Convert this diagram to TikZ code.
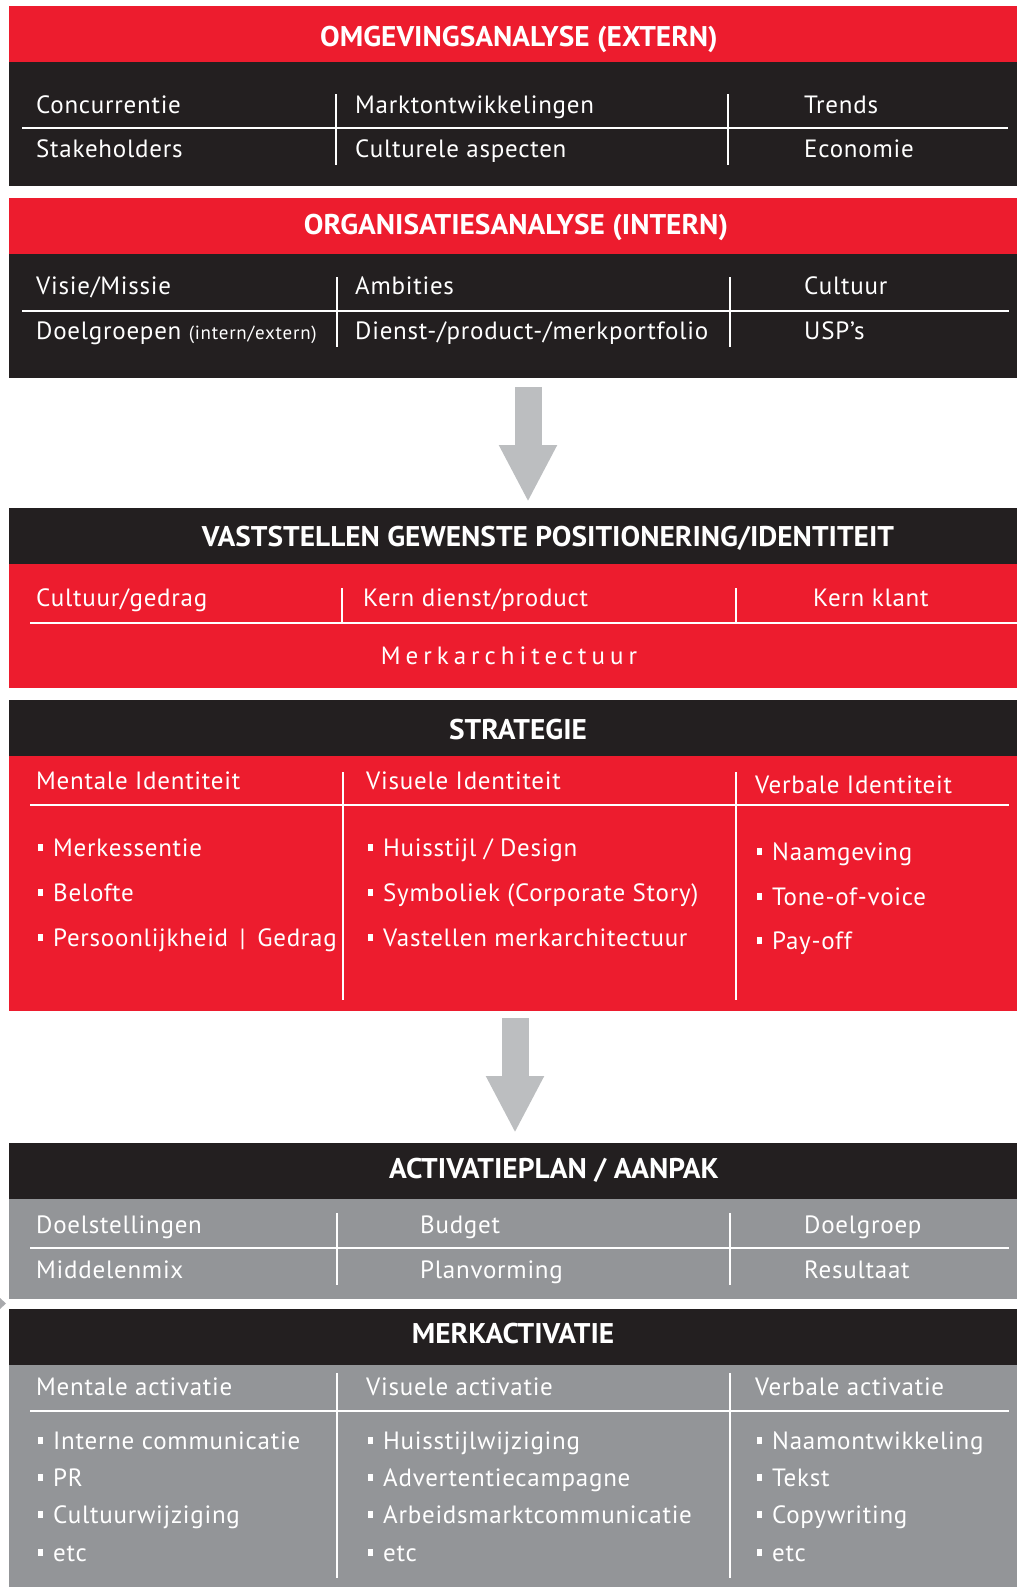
\documentclass[tikz,border=0pt]{standalone}
\usepackage{fontspec}
\setmainfont{PT Sans}
\newfontfamily\hfont[FakeStretch=1.03]{PT Sans}
\newfontfamily\bfont[LetterSpace=3]{PT Sans}
\usetikzlibrary{arrows.meta}
\definecolor{cred}{HTML}{ED1C2E}
\definecolor{cdark}{HTML}{231F20}
\definecolor{cgrey}{HTML}{939598}
\definecolor{carrow}{HTML}{BCBEC0}
\newcommand\bul{\rule[5pt]{5pt}{7pt}\hspace{10pt}}
\tikzset{
  panel/.style={inner sep=0pt, outer sep=0pt, minimum width=1008pt, anchor=north west, draw=none},
  hdr/.style={font=\hfont\bfseries\fontsize{28.5}{30}\selectfont, text=white, inner sep=0pt, anchor=base},
  txt/.style={font=\bfont\fontsize{25}{28}\selectfont, text=white, inner sep=0pt, anchor=base west},
  hsep/.style={draw=white, line width=2.5pt},
  vsep/.style={draw=white, line width=2pt},
  blockarrow/.style={draw=carrow, line width=27pt, -{Triangle[width=54pt,length=57pt,fill=carrow]}}
}
\begin{document}
\begin{tikzpicture}[x=1pt,y=-1pt]
\useasboundingbox (0,0) rectangle (1017,1587);
% ---------- Box 1
\node[panel, fill=cred, minimum height=56pt] (h1) at (9,6) {};
\node[panel, fill=cdark, minimum height=124pt] (b1) at (9,62) {};
\node[hdr] (t1) at (519,47) {OMGEVINGSANALYSE (EXTERN)};
\draw[hsep] (22,128) -- (1008,128);
\draw[vsep] (336,94) -- (336,165);
\draw[vsep] (728,94) -- (728,165);
\node[txt] (c11) at (36,113) {Concurrentie};
\node[txt] (c12) at (355,113) {Marktontwikkelingen};
\node[txt] (c13) at (804,113) {Trends};
\node[txt] (c14) at (36,157) {Stakeholders};
\node[txt] (c15) at (355,157) {Culturele aspecten};
\node[txt] (c16) at (804,157) {Economie};
% ---------- Box 2
\node[panel, fill=cred, minimum height=56pt] (h2) at (9,198) {};
\node[panel, fill=cdark, minimum height=124pt] (b2) at (9,254) {};
\node[hdr] (t2) at (516,234) {ORGANISATIESANALYSE (INTERN)};
\draw[hsep] (22,311) -- (1009,311);
\draw[vsep] (337,277) -- (337,347);
\draw[vsep] (730,277) -- (730,347);
\node[txt] (c21) at (36,294) {Visie/Missie};
\node[txt] (c22) at (355,294) {Ambities};
\node[txt] (c23) at (804,294) {Cultuur};
\node[txt] (c24) at (36,339) {Doelgroepen {\fontsize{19}{22}\selectfont\addfontfeature{LetterSpace=4} (intern/extern)}};
\node[txt] (c25) at (355,339) {Dienst-/product-/merkportfolio};
\node[txt] (c26) at (804,339) {USP’s};
% ---------- Arrow 1
\coordinate (a1s) at (528,387);
\coordinate (a1e) at (528,502);
\draw[blockarrow] (a1s) -- (a1e);
% ---------- Box 3
\node[panel, fill=cdark, minimum height=56pt] (h3) at (9,508) {};
\node[panel, fill=cred, minimum height=124pt] (b3) at (9,564) {};
\node[hdr] (t3) at (548,546) {VASTSTELLEN GEWENSTE POSITIONERING/IDENTITEIT};
\draw[hsep] (30,623) -- (1017,623);
\draw[vsep] (342,588) -- (342,622);
\draw[vsep] (736,588) -- (736,622);
\node[txt] (c31) at (36,606) {Cultuur/gedrag};
\node[txt] (c32) at (363,606) {Kern dienst/product};
\node[txt] (c33) at (813,606) {Kern klant};
\node[txt, anchor=base] (c34) at (509,664) {\addfontfeature{LetterSpace=20}Merkarchitectuur};
% ---------- Box 4
\node[panel, fill=cdark, minimum height=56pt] (h4) at (9,700) {};
\node[panel, fill=cred, minimum height=255pt] (b4) at (9,756) {};
\node[hdr] (t4) at (518,739) {STRATEGIE};
\draw[hsep] (30,805) -- (1009,805);
\draw[vsep] (343,772) -- (343,1000);
\draw[vsep] (736,772) -- (736,1000);
\node[txt] (c41) at (36,789) {Mentale Identiteit};
\node[txt] (c42) at (366,789) {Visuele Identiteit};
\node[txt] (c43) at (755,793) {Verbale Identiteit};
\node[txt] (c44) at (38,856) {\bul Merkessentie};
\node[txt] (c45) at (38,901) {\bul Belofte};
\node[txt] (c46) at (38,946) {\bul Persoonlijkheid \,|\, Gedrag};
\node[txt] (c47) at (368,856) {\bul Huisstijl / Design};
\node[txt] (c48) at (368,901) {\bul Symboliek (Corporate Story)};
\node[txt] (c49) at (368,946) {\bul Vastellen merkarchitectuur};
\node[txt] (c4a) at (757,860) {\bul Naamgeving};
\node[txt] (c4b) at (757,905) {\bul Tone-of-voice};
\node[txt] (c4c) at (757,949) {\bul Pay-off};
% ---------- Arrow 2
\coordinate (a2s) at (515,1018);
\coordinate (a2e) at (515,1133);
\draw[blockarrow] (a2s) -- (a2e);
% ---------- Box 5
\node[panel, fill=cdark, minimum height=56pt] (h5) at (9,1143) {};
\node[panel, fill=cgrey, minimum height=100pt] (b5) at (9,1199) {};
\node[hdr] (t5) at (554,1178) {ACTIVATIEPLAN / AANPAK};
\draw[hsep] (30,1248) -- (1009,1248);
\draw[vsep] (337,1213) -- (337,1285);
\draw[vsep] (730,1213) -- (730,1285);
\node[txt] (c51) at (36,1233) {Doelstellingen};
\node[txt] (c52) at (420,1233) {Budget};
\node[txt] (c53) at (804,1233) {Doelgroep};
\node[txt] (c54) at (36,1278) {Middelenmix};
\node[txt] (c55) at (420,1278) {Planvorming};
\node[txt] (c56) at (804,1278) {Resultaat};
\fill[cgrey!80!white] (0,1298) -- (6,1303.5) -- (0,1309) -- cycle;
% ---------- Box 6
\node[panel, fill=cdark, minimum height=56pt] (h6) at (9,1309) {};
\node[panel, fill=cgrey, minimum height=278pt] (b6) at (9,1365) {};
\node[hdr] (t6) at (513,1343) {MERKACTIVATIE};
\draw[hsep] (30,1411) -- (1009,1411);
\draw[vsep] (337,1373) -- (337,1578);
\draw[vsep] (730,1373) -- (730,1578);
\node[txt] (c61) at (36,1395) {Mentale activatie};
\node[txt] (c62) at (366,1395) {Visuele activatie};
\node[txt] (c63) at (755,1395) {Verbale activatie};
\node[txt] (c64) at (38,1449) {\bul Interne communicatie};
\node[txt] (c65) at (38,1486) {\bul PR};
\node[txt] (c66) at (38,1523) {\bul Cultuurwijziging};
\node[txt] (c67) at (38,1561) {\bul etc};
\node[txt] (c68) at (368,1449) {\bul Huisstijlwijziging};
\node[txt] (c69) at (368,1486) {\bul Advertentiecampagne};
\node[txt] (c6a) at (368,1523) {\bul Arbeidsmarktcommunicatie};
\node[txt] (c6b) at (368,1561) {\bul etc};
\node[txt] (c6c) at (757,1449) {\bul Naamontwikkeling};
\node[txt] (c6d) at (757,1486) {\bul Tekst};
\node[txt] (c6e) at (757,1523) {\bul Copywriting};
\node[txt] (c6f) at (757,1561) {\bul etc};
\end{tikzpicture}
\end{document}
